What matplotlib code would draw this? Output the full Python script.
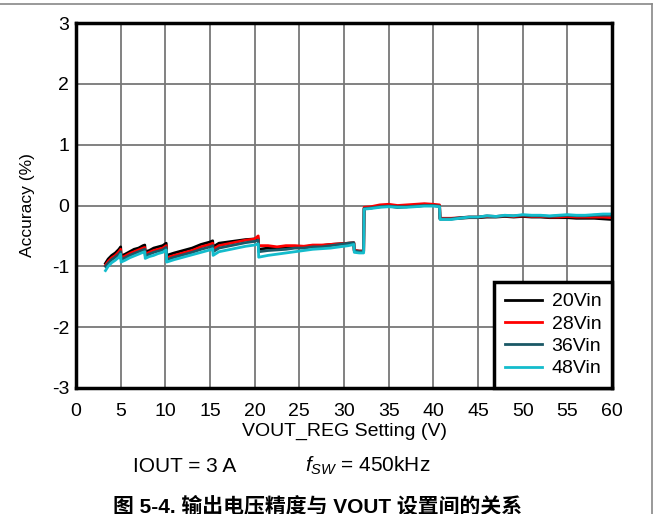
import matplotlib
matplotlib.use('Agg')
import matplotlib.pyplot as plt
from matplotlib.lines import Line2D

plt.rcParams['font.family'] = ['Liberation Sans', 'Noto Sans CJK SC', 'DejaVu Sans']
plt.rcParams['axes.unicode_minus'] = False
plt.rcParams['mathtext.fontset'] = 'custom'
plt.rcParams['mathtext.it'] = 'Liberation Sans:italic'
plt.rcParams['mathtext.rm'] = 'Liberation Sans'

# VOUT_REG setting (V), shared by all series; pairs of close values are the steps
vout = [3.3, 3.6, 4.0, 4.4, 4.8, 5.0, 5.05, 5.5, 6.0, 6.5, 7.0, 7.5, 7.7, 7.75, 8.2, 8.7,
        9.2, 9.7, 10.1, 10.15, 11, 12, 13, 14, 15, 15.3, 15.35, 16, 17, 18, 19, 20,
        20.4, 20.45, 21.5, 22.5, 23.5, 24.5, 25.5, 26.5, 27.5, 28.5, 29.5, 30.5, 31.1, 31.15,
        31.7, 32.2, 32.25, 33, 34, 35, 36, 37, 38, 39, 40, 40.7, 40.75, 42, 43, 44,
        45, 46, 47, 48, 49, 50, 51, 52, 53, 54, 55, 56, 57, 58, 59, 60]

acc_20vin = [-0.95, -0.88, -0.82, -0.78, -0.72, -0.68, -0.83, -0.80, -0.76, -0.72, -0.70, -0.66, -0.65, -0.76, -0.74, -0.70,
             -0.68, -0.66, -0.62, -0.82, -0.78, -0.74, -0.70, -0.64, -0.60, -0.58, -0.68, -0.62, -0.60, -0.58, -0.56, -0.55,
             -0.54, -0.72, -0.70, -0.70, -0.69, -0.68, -0.68, -0.66, -0.66, -0.64, -0.63, -0.62, -0.62, -0.74,
             -0.75, -0.75, -0.05, -0.04, -0.02, -0.01, -0.03, -0.02, -0.01, 0.0, 0.0, -0.01, -0.22, -0.22, -0.21, -0.20,
             -0.20, -0.19, -0.19, -0.18, -0.19, -0.18, -0.19, -0.19, -0.20, -0.20, -0.20, -0.21, -0.21, -0.21, -0.22, -0.23]

acc_28vin = [-0.98, -0.92, -0.86, -0.82, -0.76, -0.72, -0.86, -0.83, -0.79, -0.76, -0.73, -0.70, -0.69, -0.80, -0.77, -0.74,
             -0.72, -0.70, -0.66, -0.86, -0.82, -0.78, -0.74, -0.68, -0.64, -0.62, -0.72, -0.66, -0.63, -0.60, -0.57, -0.55,
             -0.50, -0.66, -0.66, -0.68, -0.66, -0.66, -0.67, -0.65, -0.65, -0.64, -0.63, -0.62, -0.61, -0.74,
             -0.75, -0.75, -0.03, -0.02, 0.01, 0.02, 0.0, 0.01, 0.02, 0.03, 0.02, 0.01, -0.21, -0.21, -0.20, -0.19,
             -0.19, -0.18, -0.18, -0.17, -0.18, -0.17, -0.18, -0.18, -0.19, -0.19, -0.18, -0.19, -0.19, -0.19, -0.19, -0.20]

acc_36vin = [-1.00, -0.95, -0.89, -0.85, -0.80, -0.76, -0.89, -0.86, -0.82, -0.79, -0.76, -0.73, -0.72, -0.83, -0.80, -0.77,
             -0.75, -0.73, -0.69, -0.89, -0.85, -0.81, -0.77, -0.72, -0.68, -0.66, -0.76, -0.70, -0.67, -0.64, -0.61, -0.59,
             -0.57, -0.76, -0.74, -0.73, -0.72, -0.70, -0.70, -0.68, -0.68, -0.66, -0.64, -0.62, -0.61, -0.75,
             -0.76, -0.76, -0.05, -0.04, -0.02, -0.01, -0.02, -0.02, -0.01, 0.0, 0.0, -0.01, -0.22, -0.22, -0.20, -0.19,
             -0.19, -0.17, -0.18, -0.17, -0.17, -0.16, -0.17, -0.17, -0.18, -0.17, -0.16, -0.17, -0.17, -0.16, -0.16, -0.16]

acc_48vin = [-1.07, -1.00, -0.94, -0.90, -0.85, -0.80, -0.93, -0.90, -0.86, -0.83, -0.80, -0.77, -0.76, -0.87, -0.84, -0.82,
             -0.79, -0.77, -0.73, -0.93, -0.89, -0.85, -0.81, -0.77, -0.73, -0.71, -0.82, -0.76, -0.73, -0.70, -0.67, -0.65,
             -0.63, -0.85, -0.82, -0.80, -0.78, -0.76, -0.74, -0.72, -0.71, -0.70, -0.68, -0.66, -0.64, -0.77,
             -0.78, -0.78, -0.06, -0.05, -0.03, -0.02, -0.03, -0.03, -0.02, -0.01, -0.01, -0.02, -0.23, -0.23, -0.21, -0.19,
             -0.19, -0.17, -0.18, -0.16, -0.17, -0.15, -0.16, -0.16, -0.17, -0.16, -0.15, -0.16, -0.16, -0.15, -0.14, -0.14]

labels = ['20Vin', '28Vin', '36Vin', '48Vin']
colors = ['#000000', '#ff0000', '#1a5866', '#14bccc']

fig = plt.figure(figsize=(6.54, 5.14), dpi=100)
ax = fig.add_axes([76 / 654, 1 - 388 / 514, 536 / 654, 365 / 514])

for y, lab, c in zip([acc_20vin, acc_28vin, acc_36vin, acc_48vin], labels, colors):
    ax.plot(vout, y, color=c, lw=2, label=lab)

ax.set_xlim(0, 60)
ax.set_ylim(-3, 3)
ax.set_xticks(range(0, 61, 5))
ax.set_yticks(range(-3, 4))
ax.grid(True, color='#777777', lw=1.3)
ax.set_axisbelow(True)
for s in ax.spines.values():
    s.set_linewidth(2.5)
    s.set_color('black')
ax.tick_params(length=0, labelsize=14, pad=5)
ax.tick_params(axis='x', pad=11)
ax.set_xlabel('VOUT_REG Setting (V)', fontsize=14, labelpad=2)
ax.set_ylabel('Accuracy (%)', fontsize=12.5, labelpad=12)

leg = ax.legend(loc='lower right', fontsize=14, frameon=True, fancybox=False,
                borderaxespad=0, handlelength=1.9, handletextpad=0.5,
                labelspacing=0.24, borderpad=0.55)
leg.get_frame().set_edgecolor('black')
leg.get_frame().set_linewidth(2.5)
leg.get_frame().set_alpha(1)

fig.text(133 / 654, 1 - 466 / 514, 'IOUT = 3 A', fontsize=15, va='center')
fig.text(305 / 654, 1 - 466 / 514, r'$f_{SW}$ = 450kHz', fontsize=15, va='center')
fig.text(113 / 654, 1 - 507 / 514, '图 5-4. 输出电压精度与 VOUT 设置间的关系', fontsize=15,
         fontweight='bold', va='center', family=['Liberation Sans', 'Noto Sans CJK SC'])

# page border lines
fig.add_artist(Line2D([0, 652 / 654], [1 - 4 / 514, 1 - 4 / 514], color='#888888', lw=1.2))
fig.add_artist(Line2D([652 / 654, 652 / 654], [1 - 4 / 514, 0], color='#888888', lw=1.2))

fig.savefig('out.png', dpi=100)
